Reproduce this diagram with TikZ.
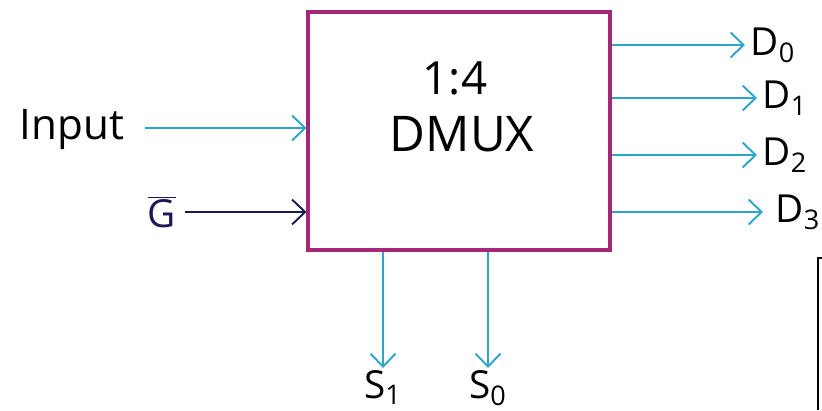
\documentclass[tikz,border=0pt]{standalone}
\usepackage{fontspec}
\setmainfont{Open Sans}
\usepackage{xcolor}
\definecolor{boxcolor}{RGB}{165, 40, 120}
\definecolor{wirecolor}{RGB}{45, 165, 200}
\definecolor{enablecolor}{RGB}{25, 25, 85}
\usetikzlibrary{arrows.meta, positioning}

\begin{document}
\begin{tikzpicture}[
    x=0.02cm, y=-0.02cm,
    dmuxbox/.style={rectangle, draw=boxcolor, line width=1.8pt, minimum width=6.04cm, minimum height=4.76cm, align=center},
    wire/.style={-{Straight Barb[length=2.6mm, width=5mm]}, line width=1.1pt, draw=wirecolor},
    enablewire/.style={wire, draw=enablecolor},
    pin/.style={font=\fontsize{22}{24}\selectfont, inner sep=1pt}
]
    \useasboundingbox (0,0) rectangle (822,410);

    % Demultiplexer block
    \node[dmuxbox] (dmux) at (459,131) {};
    \node[font=\fontsize{26}{28}\selectfont] (ratio) at (455,78) {1:4};
    \node[font=\fontsize{28}{30}\selectfont] (name) at (462,134) {DMUX};

    % Inputs
    \node[pin, font=\fontsize{24}{26}\selectfont] (input) at (72,130) {Input};
    \coordinate (inend) at (145,128);
    \node[pin, text=enablecolor] (gbar) at (162,212) {$\overline{\mbox{G}}$};
    \coordinate (gend) at (185,212);

    % Outputs
    \coordinate (d0end) at (745,45);
    \coordinate (d1end) at (757,98);
    \coordinate (d2end) at (757,155);
    \coordinate (d3end) at (763,212);
    \node[pin, right=2pt of d0end] (d0) {D\textsubscript{0}};
    \node[pin, right=2pt of d1end] (d1) {D\textsubscript{1}};
    \node[pin, right=2pt of d2end] (d2) {D\textsubscript{2}};
    \node[pin, right=6pt of d3end] (d3) {D\textsubscript{3}};

    % Select lines
    \coordinate (s1end) at (383,368);
    \coordinate (s0end) at (488,368);
    \node[pin, below=0pt of s1end] (s1) {S\textsubscript{1}};
    \node[pin, below=0pt of s0end] (s0) {S\textsubscript{0}};

    % Arrows
    \draw[wire] (inend) -- (inend -| dmux.west);
    \draw[enablewire] (gend) -- (gend -| dmux.west);
    \draw[wire] (d0end -| dmux.east) -- (d0end);
    \draw[wire] (d1end -| dmux.east) -- (d1end);
    \draw[wire] (d2end -| dmux.east) -- (d2end);
    \draw[wire] (d3end -| dmux.east) -- (d3end);
    \draw[wire] (s1end |- dmux.south) -- (s1end);
    \draw[wire] (s0end |- dmux.south) -- (s0end);

    % Edge of the next table
    \draw[line width=1.2pt] (818,410) |- (822,258);
\end{tikzpicture}
\end{document}
